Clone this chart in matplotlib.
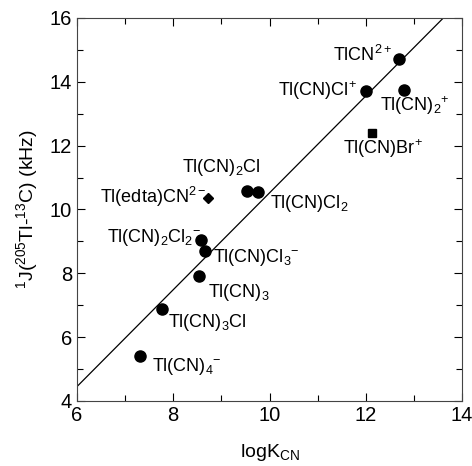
import matplotlib
matplotlib.use('Agg')
import matplotlib.pyplot as plt
from matplotlib.ticker import MultipleLocator

plt.rcParams['font.family'] = ['Liberation Sans', 'DejaVu Sans']
plt.rcParams['mathtext.fontset'] = 'custom'
plt.rcParams['mathtext.rm'] = 'Liberation Sans'
plt.rcParams['mathtext.it'] = 'Liberation Sans'

# data
circle_x = [12.69, 12.0, 12.8, 9.53, 9.76, 8.58, 8.66, 8.54, 7.77, 7.31]
circle_y = [14.71, 13.71, 13.74, 10.58, 10.55, 9.04, 8.70, 7.91, 6.88, 5.40]
square_x = [12.13]
square_y = [12.39]
diamond_x = [8.72]
diamond_y = [10.36]

fit_x = [6.0, 13.61]
fit_y = [4.45, 16.0]

labels = [r'TlCN$^{2+}$', r'Tl(CN)Cl$^{+}$', r'Tl(CN)$_2$$^{+}$', r'Tl(CN)Br$^{+}$',
          r'Tl(CN)$_2$Cl', r'Tl(edta)CN$^{2-}$', r'Tl(CN)Cl$_2$',
          r'Tl(CN)$_2$Cl$_2$$^{-}$', r'Tl(CN)Cl$_3$$^{-}$', r'Tl(CN)$_3$',
          r'Tl(CN)$_3$Cl', r'Tl(CN)$_4$$^{-}$']
label_x = [11.32, 10.18, 12.3, 11.53, 8.18, 6.48, 10.01, 6.62, 8.83, 8.72, 7.89, 7.56]
label_y = [14.85, 13.72, 13.25, 11.92, 11.3, 10.38, 10.2, 9.12, 8.5, 7.4, 6.45, 5.08]

fig = plt.figure(figsize=(4.72, 4.66), dpi=100)
ax = fig.add_axes([0.163, 0.1395, 0.816, 0.8219])

ax.plot(fit_x, fit_y, color='black', lw=0.9)
ax.plot(circle_x, circle_y, 'o', color='black', ms=8)
ax.plot(square_x, square_y, 's', color='black', ms=6)
ax.plot(diamond_x, diamond_y, 'D', color='black', ms=5)

for t, x, y in zip(labels, label_x, label_y):
    ax.text(x, y, t, fontsize=13, va='center', ha='left')

ax.set_xlim(6, 14)
ax.set_ylim(4, 16)
ax.xaxis.set_major_locator(MultipleLocator(2))
ax.xaxis.set_minor_locator(MultipleLocator(1))
ax.yaxis.set_major_locator(MultipleLocator(2))
ax.yaxis.set_minor_locator(MultipleLocator(1))
ax.tick_params(which='both', direction='in', top=True, right=True, labelsize=14.5)
ax.tick_params(which='major', length=6, width=0.8)
ax.tick_params(which='minor', length=4, width=0.8)
for s in ax.spines.values():
    s.set_linewidth(0.8)
    s.set_color('#444444')

ax.set_xlabel(r'logK$_{\mathrm{CN}}$', fontsize=14, labelpad=12)
ax.set_ylabel(r'$^{1}$J($^{205}$Tl-$^{13}$C) (kHz)', fontsize=14, labelpad=7)

fig.savefig('out.png', dpi=100)
